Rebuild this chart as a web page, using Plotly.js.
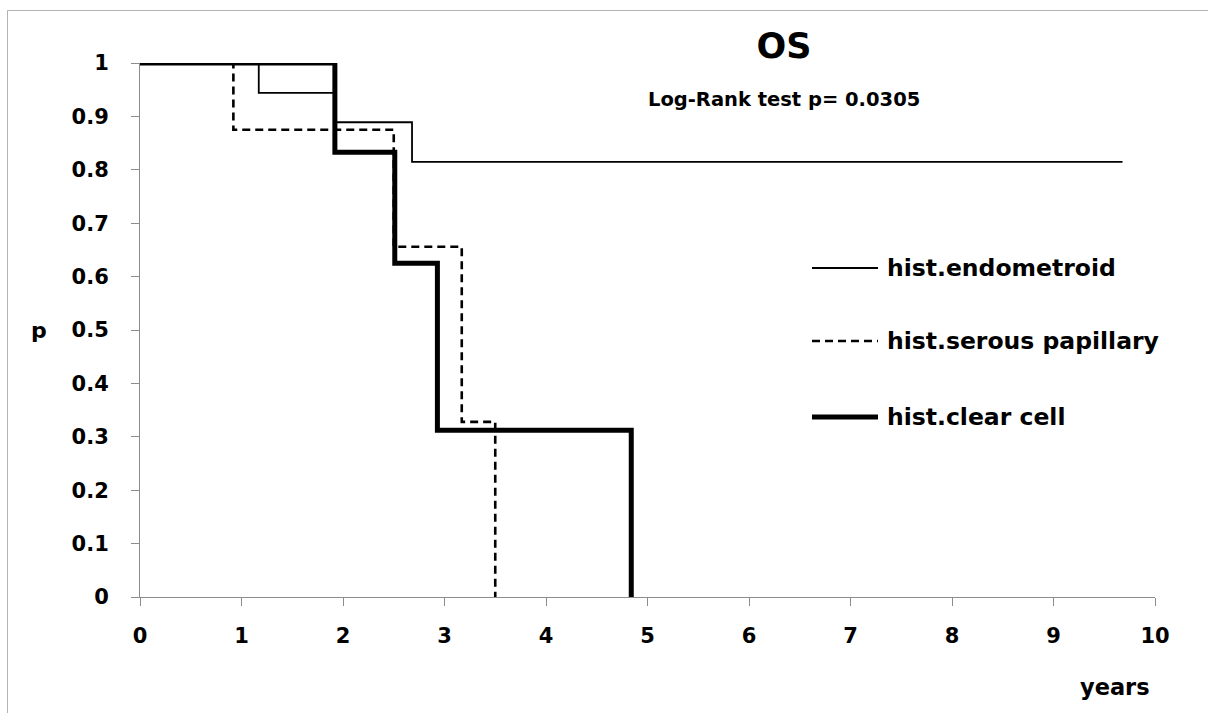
<!DOCTYPE html>
<html>
<head>
<meta charset="utf-8">
<script src="https://cdn.plot.ly/plotly-3.0.1.min.js"></script>
<style>html,body{margin:0;padding:0;background:#fff;}#chart{width:1208px;height:713px;}</style>
</head>
<body>
<div id="chart"></div>
<script>
// Kaplan-Meier step data (years, survival probability)
const endoTime = [0, 1.17, 1.92, 2.68, 9.68];
const endoSurv = [1, 0.944, 0.889, 0.815, 0.815];
const serousTime = [0, 0.92, 2.50, 3.17, 3.50];
const serousSurv = [1, 0.875, 0.656, 0.328, 0];
const clearTime = [0, 1.92, 2.51, 2.93, 4.84];
const clearSurv = [1, 0.833, 0.625, 0.3125, 0];
const seriesNames = ["hist.endometroid", "hist.serous papillary", "hist.clear cell"];
const xTicks = [0,1,2,3,4,5,6,7,8,9,10];
const yTicks = [0,0.1,0.2,0.3,0.4,0.5,0.6,0.7,0.8,0.9,1];
const titleText = "OS";
const subtitleText = "Log-Rank test p= 0.0305";

const FONT = "'DejaVu Sans', sans-serif";
const L = 140, R = 53, T = 63, B = 116, W = 1208, H = 713;
const pw = W - L - R, ph = H - T - B;
const px2x = p => (p - L) / pw;
const py2y = p => (H - B - p) / ph;

const styles = [
  {color: "#000", width: 1.8, dash: "solid"},
  {color: "#000", width: 2.6, dash: "8px,5px"},
  {color: "#000", width: 5, dash: "solid"}
];

const traces = [
  {x: endoTime, y: endoSurv, name: seriesNames[0]},
  {x: serousTime, y: serousSurv, name: seriesNames[1]},
  {x: clearTime, y: clearSurv, name: seriesNames[2]}
].map((t, i) => ({
  type: "scatter", mode: "lines", x: t.x, y: t.y, name: t.name,
  line: Object.assign({shape: "hv"}, styles[i]),
  cliponaxis: false, showlegend: false, hoverinfo: "x+y+name"
}));

// legend drawn as shapes + annotations
const legY = [268, 341, 417];
const shapes = [
  {type: "rect", xref: "paper", yref: "paper",
   x0: px2x(7.5), x1: px2x(1230), y0: py2y(740), y1: py2y(10.5),
   line: {color: "#b3b3b3", width: 1}, fillcolor: "rgba(0,0,0,0)", layer: "below"}
];
const annotations = [
  {text: subtitleText, xref: "paper", yref: "paper", x: px2x(784), y: py2y(100),
   xanchor: "center", yanchor: "middle", showarrow: false,
   font: {family: FONT, size: 19.5, color: "#000", weight: "bold"}},
  {text: "p", xref: "paper", yref: "paper", x: px2x(39), y: py2y(330),
   xanchor: "center", yanchor: "middle", showarrow: false,
   font: {family: FONT, size: 22, color: "#000", weight: "bold"}},
  {text: "years", xref: "paper", yref: "paper", x: px2x(1115), y: py2y(687),
   xanchor: "center", yanchor: "middle", showarrow: false,
   font: {family: FONT, size: 22.5, color: "#000", weight: "bold"}}
];
seriesNames.forEach((n, i) => {
  shapes.push({type: "line", xref: "paper", yref: "paper",
    x0: px2x(812), x1: px2x(878), y0: py2y(legY[i]), y1: py2y(legY[i]),
    line: {color: styles[i].color, width: styles[i].width, dash: styles[i].dash}});
  annotations.push({text: n, xref: "paper", yref: "paper", x: px2x(885), y: py2y(legY[i]),
    xanchor: "left", yanchor: "middle", showarrow: false,
    font: {family: FONT, size: 23.5, color: "#000", weight: "bold"}});
});

const axisCommon = {
  showgrid: false, zeroline: false, showline: true, linecolor: "#8c8c8c", linewidth: 1,
  ticks: "outside", ticklen: 8, tickcolor: "#8c8c8c", tickwidth: 1,
  tickfont: {family: FONT, size: 21, color: "#000", weight: "bold"}
};

const layout = {
  width: W, height: H,
  margin: {l: L, r: R, t: T, b: B, pad: 0},
  paper_bgcolor: "#fff", plot_bgcolor: "#fff",
  showlegend: false,
  title: {text: titleText, font: {family: FONT, size: 35, color: "#000", weight: "bold"},
          xref: "container", yref: "container", x: 784 / W, y: 1 - 46 / H,
          xanchor: "center", yanchor: "middle"},
  xaxis: Object.assign({}, axisCommon, {range: [0, 10], tickvals: xTicks,
          ticktext: xTicks.map(String), ticklabelstandoff: 12}),
  yaxis: Object.assign({}, axisCommon, {range: [0, 1], tickvals: yTicks,
          ticktext: yTicks.map(v => String(v)), ticklabelstandoff: 18}),
  shapes: shapes,
  annotations: annotations
};

Plotly.newPlot("chart", traces, layout, {displayModeBar: false, staticPlot: true});
</script>
</body>
</html>
